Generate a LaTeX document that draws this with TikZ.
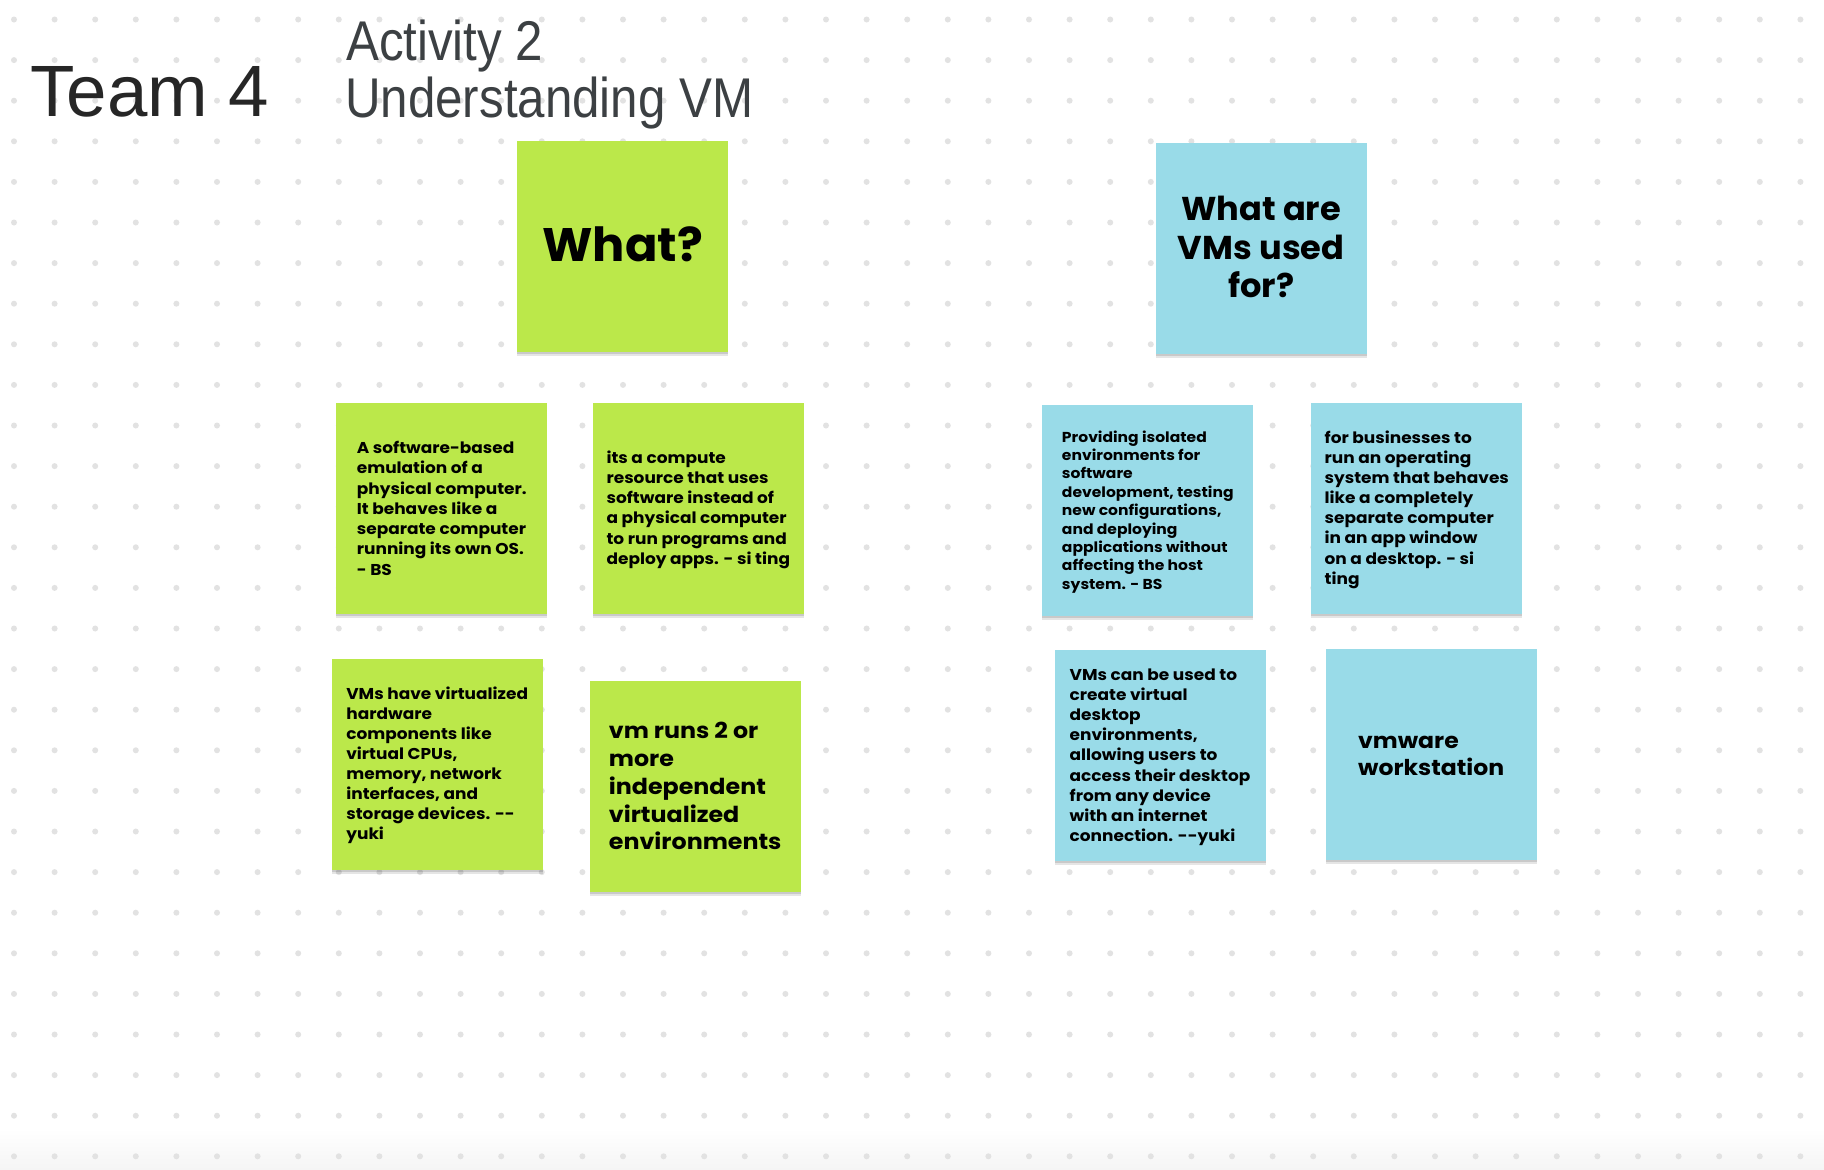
\documentclass[tikz,border=0pt]{standalone}
\usepackage{fontspec}
\usetikzlibrary{shadows}
\newfontfamily\notefont{Poppins}[FakeStretch=1.08]
\newfontfamily\headfont{Poppins}[FakeStretch=1.02]
\newfontfamily\teamfont{Liberation Sans}
\newfontfamily\titlefont{Liberation Sans}[FakeStretch=0.88]
\definecolor{stgreen}{RGB}{187,232,74}
\definecolor{stblue}{RGB}{153,219,232}
\definecolor{dotc}{RGB}{226,226,226}
\definecolor{teamc}{RGB}{38,38,38}
\definecolor{actc}{RGB}{60,64,67}
\newcommand\nstrut{\rule[-0.22\baselineskip]{0pt}{\baselineskip}}
\tikzset{
  sticky/.style={minimum width=211pt, minimum height=211pt, inner sep=0pt, align=left, text=black,
    drop shadow={shadow xshift=0pt,shadow yshift=-4pt,opacity=0.10,fill=black},
    drop shadow={shadow xshift=0pt,shadow yshift=-2pt,opacity=0.12,fill=black}},
  gnote/.style={sticky, fill=stgreen},
  bnote/.style={sticky, fill=stblue},
  title/.style={anchor=base west, inner sep=0pt},
}
\begin{document}
\begin{tikzpicture}[x=1pt,y=-1pt]
\useasboundingbox (0,0) rectangle (1824,1170);
\fill[white] (0,0) rectangle (1824,1170);
\shade[top color=white, bottom color=black!4] (0,1128) rectangle (1824,1170);
\foreach \i in {0,...,44}{\foreach \j in {0,...,28}{\fill[dotc] ({14+\i*40.6},{19.5+\j*40.6}) circle (3pt);}}

% titles
\node[title, font=\teamfont\fontsize{72.7}{80}\selectfont, text=teamc] (team) at (30,116.7) {Team 4};
\node[title, font=\titlefont\fontsize{56}{60}\selectfont, text=actc] (act) at (346,60.5) {Activity 2};
\node[title, font=\titlefont\fontsize{56}{60}\selectfont, text=actc] (und) at (345,117.5) {Understanding VM};

% header notes
\node[gnote, font=\headfont\bfseries\fontsize{47}{56.4}\selectfont] (what) at (622.8,246.2) {\nstrut What?\nstrut};
\node[bnote, align=center, font=\headfont\bfseries\fontsize{33}{38.5}\selectfont] (used) at (1261.2,248.3)
  {\nstrut What are\\VMs used\\for?\nstrut};

% green notes
\node[gnote, font=\notefont\bfseries\fontsize{15.7}{20.3}\selectfont] (ga) at (441.8,508.7)
  {\nstrut A software-based\\emulation of a\\physical computer.\\It behaves like a\\separate computer\\running its own OS.\\- BS\nstrut};
\node[gnote, font=\notefont\bfseries\fontsize{15.7}{20.1}\selectfont] (gb) at (698.3,508.3)
  {\nstrut its a compute\\resource that uses\\software instead of\\a physical computer\\to run programs and\\deploy apps. - si ting\nstrut};
\node[gnote, font=\notefont\bfseries\fontsize{15.7}{20}\selectfont] (gc) at (437.2,764.2)
  {\nstrut VMs have virtualized\\hardware\\components like\\virtual CPUs,\\memory, network\\interfaces, and\\storage devices. -\kern0pt-\\yuki\nstrut};
\node[gnote, font=\notefont\bfseries\fontsize{22}{27.9}\selectfont] (gd) at (695.2,786.3)
  {\nstrut vm runs 2 or\\more\\independent\\virtualized\\environments\nstrut};

% blue notes
\node[bnote, font=\notefont\bfseries\fontsize{14.4}{18.4}\selectfont] (ba) at (1147.8,510.5)
  {\nstrut Providing isolated\\environments for\\software\\development, testing\\new configurations,\\and deploying\\applications without\\affecting the host\\system. - BS\nstrut};
\node[bnote, font=\notefont\bfseries\fontsize{15.7}{20.05}\selectfont] (bb) at (1416.8,508.3)
  {\nstrut for businesses to\\run an operating\\system that behaves\\like a completely\\separate computer\\in an app window\\on a desktop. - si\\ting\nstrut};
\node[bnote, font=\notefont\bfseries\fontsize{15.7}{20.2}\selectfont] (bc) at (1160,755.3)
  {\nstrut VMs can be used to\\create virtual\\desktop\\environments,\\allowing users to\\access their desktop\\from any device\\with an internet\\connection. -\kern0pt-yuki\nstrut};
\node[bnote, font=\notefont\bfseries\fontsize{21.8}{27.3}\selectfont] (bd) at (1431.2,754.5)
  {\nstrut vmware\\workstation\nstrut};
\end{tikzpicture}
\end{document}
